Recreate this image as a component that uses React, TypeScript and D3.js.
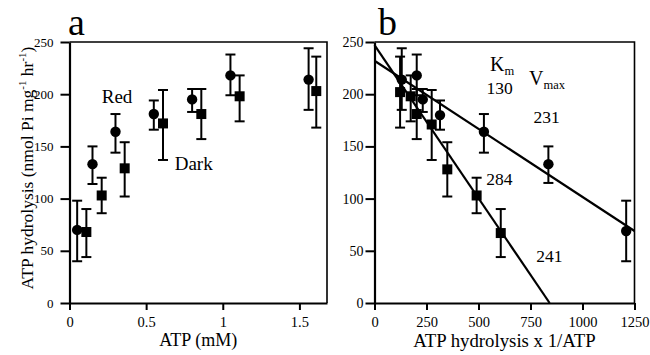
import React, { useEffect, useRef } from 'react';
import * as d3 from 'd3';

// Panel a: ATP hydrolysis vs ATP (mM)
const redAtp = [0.05, 0.15, 0.3, 0.55, 0.8, 1.05, 1.56];
const redRate = [70, 133, 164, 181, 195, 218, 214];
const redLo = [40, 114, 144, 166, 183, 199, 185];
const redHi = [98, 150, 181, 194, 205, 238, 244];

const darkAtp = [0.11, 0.21, 0.36, 0.61, 0.86, 1.11, 1.61];
const darkRate = [68, 103, 129, 172, 181, 198, 203];
const darkLo = [44, 86, 102, 137, 157, 174, 168];
const darkHi = [90, 120, 154, 204, 205, 218, 236];

// Panel b: Eadie-Hofstee (v vs v/[ATP])
const redRatio = [131, 203, 232, 315, 526, 836, 1210];
const darkRatio = [123, 174, 203, 275, 350, 491, 607];
const redRateB = [214, 218, 195, 180, 164, 133, 69];
const redLoB = [185, 199, 183, 166, 144, 115, 40];
const redHiB = [244, 238, 205, 194, 181, 150, 98];
const darkRateB = [202, 198, 181, 171, 128, 103, 67];
const darkLoB = [168, 174, 157, 137, 102, 86, 44];
const darkHiB = [236, 218, 205, 204, 154, 120, 90];

// fitted lines, endpoints in data units
const redFit: [number, number][] = [[0, 232], [1250, 69]];
const darkFit: [number, number][] = [[0, 247], [842, 0]];

const ticksA = [0, 0.5, 1, 1.5];
const ticksB = [0, 250, 500, 750, 1000, 1250];
const ticksY = [0, 50, 100, 150, 200, 250];

const FONT = "'Liberation Serif', 'Times New Roman', Times, 'DejaVu Serif', serif";

export default function App() {
  const svgRef = useRef<SVGSVGElement>(null);

  useEffect(() => {
    if (!svgRef.current) return;
    const svg = d3.select(svgRef.current);
    svg.selectAll('*').remove();

    const top = 42;
    const bottom = 303;
    const y = d3.scaleLinear().domain([0, 250]).range([bottom, top]);

    const drawPanel = (
      left: number,
      right: number,
      xDomain: [number, number],
      ticks: number[],
      tickPad: number,
      yFont: number,
    ) => {
      const x = d3.scaleLinear().domain(xDomain).range([left, right]);
      const g = svg.append('g');
      // frame top/right
      g.append('path')
        .attr('d', `M${left},${top}H${right}V${bottom}`)
        .attr('fill', 'none')
        .attr('stroke', '#000')
        .attr('stroke-width', 1.6);

      const ya = g.append('g')
        .attr('transform', `translate(${left},0)`)
        .call(d3.axisLeft(y).tickValues(ticksY).tickSize(9).tickSizeOuter(0).tickPadding(tickPad));
      const xa = g.append('g')
        .attr('transform', `translate(0,${bottom})`)
        .call(d3.axisBottom(x).tickValues(ticks).tickSize(7).tickSizeOuter(0).tickPadding(7).tickFormat((d) => String(d)));
      [ya, xa].forEach((ax) => {
        ax.attr('font-family', null).attr('font-size', null);
        ax.select('.domain').attr('stroke-width', 2.2);
        ax.selectAll('line').attr('stroke-width', 2);
        ax.selectAll('text').style('font-family', FONT).attr('fill', '#000');
      });
      ya.selectAll('text').style('font-size', `${yFont}px`);
      xa.selectAll('text').style('font-size', '14.5px');
      return { x, g };
    };

    const drawPoints = (
      g: d3.Selection<SVGGElement, unknown, null, undefined>,
      x: d3.ScaleLinear<number, number>,
      xs: number[],
      ys: number[],
      lo: number[],
      hi: number[],
      shape: 'circle' | 'square',
    ) => {
      xs.forEach((xv, i) => {
        const cx = x(xv);
        const bar = g.append('g').attr('stroke', '#000').attr('stroke-width', 2);
        bar.append('line').attr('x1', cx).attr('x2', cx).attr('y1', y(lo[i])).attr('y2', y(hi[i]));
        [lo[i], hi[i]].forEach((v) => {
          bar.append('line').attr('x1', cx - 5).attr('x2', cx + 5).attr('y1', y(v)).attr('y2', y(v));
        });
        if (shape === 'circle') {
          g.append('circle').attr('cx', cx).attr('cy', y(ys[i])).attr('r', 5.2).attr('fill', '#000');
        } else {
          g.append('rect')
            .attr('x', cx - 5)
            .attr('y', y(ys[i]) - 5)
            .attr('width', 10)
            .attr('height', 10)
            .attr('fill', '#000');
        }
      });
    };

    const addText = (
      g: d3.Selection<SVGGElement, unknown, null, undefined>,
      px: number,
      py: number,
      txt: string,
      size: number,
      anchor = 'middle',
    ) =>
      g.append('text')
        .attr('x', px)
        .attr('y', py)
        .style('font-family', FONT)
        .style('font-size', `${size}px`)
        .attr('text-anchor', anchor)
        .text(txt);

    // Panel a
    const a = drawPanel(69.5, 327, [0, 1.68], ticksA, 7, 13);
    drawPoints(a.g, a.x, redAtp, redRate, redLo, redHi, 'circle');
    drawPoints(a.g, a.x, darkAtp, darkRate, darkLo, darkHi, 'square');
    addText(a.g, a.x(0.31), y(191.5), 'Red', 19);
    addText(a.g, a.x(0.81), y(127), 'Dark', 19);
    addText(a.g, 68, 35, 'a', 38, 'start');
    addText(a.g, (69.5 + 327) / 2, 346, 'ATP (mM)', 18);

    const yt = a.g.append('text')
      .attr('transform', `translate(32.5,168) rotate(-90)`)
      .style('font-family', FONT)
      .style('font-size', '17.5px')
      .attr('text-anchor', 'middle');
    yt.append('tspan').text('ATP hydrolysis (nmol Pi mg');
    yt.append('tspan').style('font-size', '11px').attr('dy', -7).text('-1');
    yt.append('tspan').attr('dy', 7).text(' hr');
    yt.append('tspan').style('font-size', '11px').attr('dy', -7).text('-1');
    yt.append('tspan').attr('dy', 7).text(')');

    // Panel b
    const b = drawPanel(374.5, 634.5, [0, 1250], ticksB, 2, 14);
    const line = d3.line<[number, number]>().x((d) => b.x(d[0])).y((d) => y(d[1]));
    [redFit, darkFit].forEach((f) => {
      b.g.append('path').attr('d', line(f)).attr('fill', 'none').attr('stroke', '#000').attr('stroke-width', 2.2);
    });
    drawPoints(b.g, b.x, redRatio, redRateB, redLoB, redHiB, 'circle');
    drawPoints(b.g, b.x, darkRatio, darkRateB, darkLoB, darkHiB, 'square');
    addText(b.g, 378, 35, 'b', 38, 'start');
    addText(b.g, (374.5 + 634.5) / 2, 347, 'ATP hydrolysis x 1/ATP', 18.8);

    const km = addText(b.g, b.x(555), y(222), 'K', 20, 'start');
    km.append('tspan').style('font-size', '12.5px').attr('dy', 4).text('m');
    const vm = addText(b.g, b.x(743), y(209), 'V', 20, 'start');
    vm.append('tspan').style('font-size', '12.5px').attr('dy', 4).text('max');
    addText(b.g, b.x(601), y(200), '130', 17.5);
    addText(b.g, b.x(828), y(172), '231', 17.5);
    addText(b.g, b.x(600), y(113), '284', 17.5);
    addText(b.g, b.x(841), y(39), '241', 17.5);
  }, []);

  return (
    <svg
      ref={svgRef}
      width={650}
      height={355}
      style={{ position: 'absolute', left: 0, top: 0, background: '#fff' }}
    />
  );
}
